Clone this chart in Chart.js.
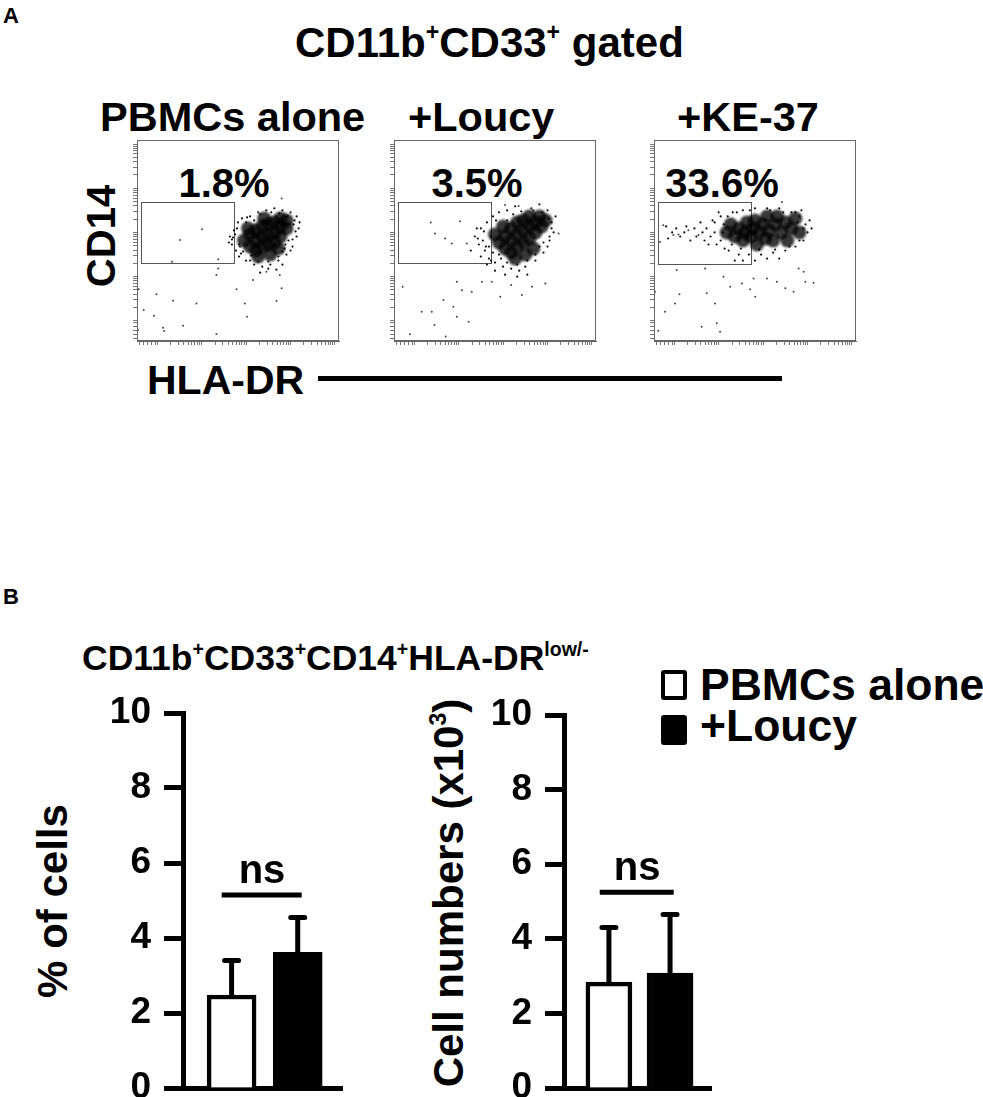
<!DOCTYPE html>
<html>
<head>
<meta charset="utf-8">
<script src="https://cdn.jsdelivr.net/npm/chart.js@4.4.1/dist/chart.umd.min.js"></script>
<style>
  body { margin: 0; background: #fff; }
  #fig { position: relative; width: 983px; height: 1097px; overflow: hidden; background: #fff;
         font-family: 'Liberation Sans', Arial, sans-serif; font-weight: bold; color: #000; }
  .t { position: absolute; white-space: nowrap; line-height: 1; }
  .t sup { font-size: 55%; vertical-align: 0; position: relative; top: -0.72em; }
  .rot { transform: translate(-50%, -50%) rotate(-90deg); }
  .ctr { transform: translateX(-50%); }
  canvas { position: absolute; }
  .sq { position: absolute; width: 26px; height: 30px; box-sizing: border-box; border: 4px solid #000; border-radius: 3px; }
</style>
</head>
<body>
<div id="fig">
  <div class="t" style="left:3px;top:5px;font-size:22px">A</div>
  <div class="t" style="left:295px;top:22px;font-size:42px">CD11b<sup>+</sup>CD33<sup>+</sup> gated</div>
  <div class="t" style="left:100px;top:96px;font-size:41.5px">PBMCs alone</div>
  <div class="t" style="left:408px;top:96px;font-size:41.5px">+Loucy</div>
  <div class="t" style="left:677px;top:96px;font-size:41.5px">+KE-37</div>
  <div class="t ctr" style="left:224px;top:163px;font-size:40px" id="p0"></div>
  <div class="t ctr" style="left:477px;top:163px;font-size:40px" id="p1"></div>
  <div class="t ctr" style="left:722px;top:163px;font-size:40px" id="p2"></div>
  <div class="t rot" style="left:101px;top:236px;font-size:40px">CD14</div>
  <div class="t" style="left:147px;top:360px;font-size:41px">HLA-DR</div>
  <div style="position:absolute;left:318px;top:376px;width:464px;height:5px;background:#000"></div>

  <div class="t" style="left:3px;top:586px;font-size:22px">B</div>
  <div class="t" style="left:82px;top:641px;font-size:35.5px">CD11b<sup>+</sup>CD33<sup>+</sup>CD14<sup>+</sup>HLA-DR<sup>low/-</sup></div>
  <div class="t rot" style="left:53px;top:901px;font-size:42px">% of cells</div>
  <div class="t rot" style="left:449px;top:893px;font-size:42px">Cell numbers (x10<sup>3</sup>)</div>

  <div class="sq" style="left:661px;top:670px;background:#fff"></div>
  <div class="sq" style="left:661px;top:715px;background:#000"></div>
  <div class="t" style="left:700px;top:663px;font-size:44.5px" id="lg0"></div>
  <div class="t" style="left:700px;top:704px;font-size:44.5px" id="lg1"></div>
</div>
<script>
// ---- panel A: flow plots, axis units 0..1000 on both axes ----
const flowSamples = ['PBMCs alone', '+Loucy', '+KE-37'];
const gatePct = ['1.8%', '3.5%', '33.6%'];
// gate box: [xMin, xMax, yMin, yMax]
const gateBox = [[21, 481, 386, 692], [22, 482, 386, 692], [18, 478, 381, 692]];

// dense part of each population
const core1 = [[530,500],[560,470],[560,530],[590,450],[590,500],[590,550],[620,470],[620,520],[650,480],[650,530],[650,580],
  [680,490],[680,540],[680,590],[710,520],[710,570],[710,610],[740,560],[740,600],[620,570],[600,420],[660,430],[700,460],[550,560],[630,610]];
const core2 = [[520,490],[550,460],[550,520],[580,440],[580,500],[580,560],[610,470],[610,530],[640,490],[640,550],[640,600],
  [670,510],[670,570],[670,620],[700,540],[700,590],[720,620],[730,570],[600,410],[650,430],[690,460],[540,570],[610,590],[500,530],[750,600]];
const core3 = [[400,520],[420,560],[440,500],[450,540],[460,590],[480,520],[490,560],[500,600],[510,480],[520,540],[540,580],
  [550,510],[560,620],[570,550],[590,500],[600,580],[610,620],[630,540],[650,590],[660,500],[680,560],[700,610],[720,540],[380,580],[360,540]];

// fringe of each population
const halo1 = [[460,520],[470,480],[480,550],[490,450],[500,590],[505,420],[520,610],[540,400],[560,620],[580,380],[600,640],
  [620,370],[640,650],[660,380],[680,660],[700,400],[720,650],[740,430],[760,640],[770,470],[780,600],[790,520],[800,560],
  [750,500],[470,505],[455,490],[515,435],[540,590],[580,600],[700,420],[760,450],[730,460],[790,620],[805,590],[650,360],
  [690,355],[610,340],[720,380],[510,470],[485,530],
  [475,515],[495,560],[505,480],[525,445],[545,615],[565,425],[610,630],[665,640],[705,635],[745,620],[775,580],[785,545],
  [770,505],[735,480],[650,395],[600,395],[560,400],[720,445]];
const halo2 = [[400,520],[420,480],[430,560],[450,450],[460,590],[470,410],[480,520],[490,620],[500,390],[520,640],[540,370],
  [560,650],[580,360],[600,670],[620,350],[650,370],[680,660],[700,400],[720,680],[740,440],[760,650],[770,500],[780,590],
  [790,540],[740,490],[440,500],[470,470],[520,430],[560,600],[700,430],[760,470],[800,620],[660,330],[610,320],[550,330],
  [500,350],[460,380],[430,420],[380,450],[410,560],
  [415,510],[445,545],[455,470],[490,440],[505,600],[530,410],[590,630],[630,645],[690,650],[735,640],[765,610],[780,560],
  [770,520],[720,470],[660,400],[610,380],[560,390],[480,400]];
const halo3 = [[260,560],[280,520],[300,590],[310,480],[330,620],[340,540],[350,460],[320,640],[370,450],[390,640],[420,430],
  [440,650],[470,430],[500,660],[530,430],[560,660],[590,440],[620,660],[650,450],[680,640],[700,470],[720,620],[740,500],
  [750,580],[760,540],[730,650],[290,600],[270,480],[240,540],[230,590],[210,520],[200,560],[180,500],[160,570],[150,540],
  [130,520],[110,560],[90,540],[70,510],[60,570],[440,400],[500,400],[560,410],[620,410],[400,400],[780,560],[770,600],
  [330,500],[345,580],[365,620],[385,480],[410,640],[430,460],[475,650],[520,455],[575,650],[600,455],[640,640],[670,470],
  [700,640],[720,500],[740,560],[710,590],[300,540],[250,500]];

// scattered single events
const sparse1 = [[322,556],[212,502],[174,394],[402,407],[402,361],[393,328],[493,258],[575,303],[641,344],[707,328],[716,262],
  [691,199],[294,187],[179,200],[96,232],[8,258],[33,154],[84,126],[5,55],[129,66],[134,50],[228,76],[393,35],[534,187],
  [545,121],[716,709]];
const sparse2 = [[311,295],[336,253],[385,245],[435,295],[484,295],[245,204],[294,171],[311,121],[369,96],[187,146],[137,146],
  [200,79],[256,22],[79,33],[43,270],[182,590],[203,535],[253,510],[286,485],[360,485],[327,596],[580,278],[633,229],[683,270],
  [749,286],[815,535],[526,220],[617,672],[550,676]];
const sparse3 = [[121,530],[96,527],[30,493],[46,576],[170,551],[220,527],[112,353],[253,361],[344,320],[377,270],[435,286],
  [476,258],[501,220],[493,311],[559,311],[608,295],[650,262],[691,245],[716,361],[749,295],[790,290],[741,344],[633,692],
  [261,237],[126,233],[104,187],[5,245],[55,146],[21,51],[236,71],[311,88],[327,46],[302,187]];

const flowCore = [core1, core2, core3];
const flowHalo = [halo1, halo2, halo3];
const flowSparse = [sparse1, sparse2, sparse3];

// ---- panel B: bar charts ----
const groups = ['PBMCs alone', '+Loucy'];
const pctMean = [2.48, 3.62];
const pctErr = [0.92, 0.93];
const numMean = [2.84, 3.08];
const numErr = [1.46, 1.57];
const nsLevel = [5.15, 5.25];
const yTicks = [0, 2, 4, 6, 8, 10];

const FONT = "'Liberation Sans', Arial, sans-serif";

function addCanvas(left, top, w, h) {
  const c = document.createElement('canvas');
  c.width = w; c.height = h;
  c.style.left = left + 'px'; c.style.top = top + 'px';
  c.style.width = w + 'px'; c.style.height = h + 'px';
  document.getElementById('fig').appendChild(c);
  return c.getContext('2d');
}
const pts = arr => arr.map(p => ({ x: p[0], y: p[1] }));

// fixed axis box size, no extra padding from labels
const fixBox = (w, h) => s => {
  if (w != null) s.width = w;
  if (h != null) s.height = h;
  s.paddingTop = 0; s.paddingBottom = 0; s.paddingLeft = 0; s.paddingRight = 0;
};

// log-looking tick marks for the flow axes
function axisMarks(scale) {
  const out = [];
  for (let v = 10; v < 100; v += 20) out.push({ value: v });
  [100, 320, 540, 760].forEach(s => {
    for (let k = 1; k <= 9; k++) out.push({ value: s + 220 * Math.log10(k) });
  });
  out.push({ value: 980 });
  scale.ticks = out;
}

const flowFrame = {
  id: 'frame',
  beforeDatasetsDraw(chart, args, opts) {
    const { ctx, scales: { x, y } } = chart;
    const g = opts.gate;
    const x0 = Math.round(x.getPixelForValue(g[0])), x1 = Math.round(x.getPixelForValue(g[1]));
    const y0 = Math.round(y.getPixelForValue(g[2])), y1 = Math.round(y.getPixelForValue(g[3]));
    ctx.save();
    ctx.strokeStyle = '#555';
    ctx.lineWidth = 1;
    ctx.strokeRect(x0 + 0.5, y1 + 0.5, x1 - x0, y0 - y1);
    ctx.restore();
  },
  // the dense core is drawn soft, like a crowded dot cloud
  beforeDatasetDraw(chart, args) {
    if (args.index === 0) { chart.ctx.save(); chart.ctx.filter = 'blur(1.2px)'; }
  },
  afterDatasetDraw(chart, args) {
    if (args.index === 0) chart.ctx.restore();
  },
  afterDatasetsDraw(chart) {
    const { ctx, chartArea: a } = chart;
    ctx.save();
    ctx.strokeStyle = '#666';
    ctx.lineWidth = 1;
    ctx.strokeRect(a.left + 0.5, a.top + 0.5, a.width - 1, a.height - 1);
    ctx.restore();
  }
};

const frameLeft = [137, 394, 654];
flowSamples.forEach((name, i) => {
  document.getElementById('p' + i).textContent = gatePct[i];
  const ctx = addCanvas(frameLeft[i] - 10, 139, 213, 212);
  const axis = (fit) => ({
    type: 'linear', min: 0, max: 1000,
    afterBuildTicks: axisMarks,
    ticks: { display: false },
    grid: { drawOnChartArea: false, tickLength: 4, color: '#777' },
    border: { color: '#666' },
    afterFit: fit
  });
  new Chart(ctx, {
    type: 'scatter',
    data: {
      datasets: [
        { label: name + ' core', data: pts(flowCore[i]), pointRadius: 7, borderWidth: 0, backgroundColor: 'rgba(0,0,0,0.78)' },
        { label: name + ' fringe', data: pts(flowHalo[i]), pointRadius: 1.1, borderWidth: 0, backgroundColor: '#111' },
        { label: name + ' events', data: pts(flowSparse[i]), pointRadius: 1, borderWidth: 0, backgroundColor: '#444' }
      ]
    },
    options: {
      responsive: false,
      animation: false,
      layout: { autoPadding: false, padding: { top: 1, right: 1 } },
      plugins: { legend: { display: false }, tooltip: { enabled: false }, frame: { gate: gateBox[i] } },
      scales: {
        x: axis(fixBox(null, 10)),
        y: axis(fixBox(10, null))
      }
    },
    plugins: [flowFrame]
  });
});

// error bars (upper only) and the ns bracket
const errBars = {
  id: 'errs',
  afterDatasetsDraw(chart, args, opts) {
    const { ctx, scales: { x, y } } = chart;
    ctx.save();
    ctx.strokeStyle = '#000';
    ctx.fillStyle = '#000';
    ctx.lineWidth = 5;
    ctx.lineCap = 'round';
    opts.mean.forEach((m, i) => {
      const cx = x.getPixelForValue(i + 1);
      const base = y.getPixelForValue(m);
      const tip = y.getPixelForValue(m + opts.err[i]);
      ctx.beginPath();
      ctx.moveTo(cx, base); ctx.lineTo(cx, tip);
      ctx.moveTo(cx - 7, tip); ctx.lineTo(cx + 7, tip);
      ctx.stroke();
    });
    const ly = y.getPixelForValue(opts.ns);
    ctx.lineCap = 'butt';
    ctx.beginPath();
    ctx.moveTo(x.getPixelForValue(0.85), ly);
    ctx.lineTo(x.getPixelForValue(2.06), ly);
    ctx.stroke();
    ctx.font = 'bold 40px ' + FONT;
    ctx.textAlign = 'center';
    ctx.fillText('ns', x.getPixelForValue(1.46), ly - 12);
    ctx.restore();
  }
};

function barChart(left, top, w, h, axisW, padTop, barW, mean, err, ns) {
  const ctx = addCanvas(left, top, w, h);
  return new Chart(ctx, {
    type: 'bar',
    data: {
      datasets: [{
        label: 'groups',
        data: groups.map((g, i) => ({ x: i + 1, y: mean[i] })),
        backgroundColor: ['#fff', '#000'],
        borderColor: '#000',
        borderWidth: 4.5,
        barThickness: barW
      }]
    },
    options: {
      responsive: false,
      animation: false,
      layout: { padding: { top: padTop, right: 8 } },
      plugins: { legend: { display: false }, tooltip: { enabled: false }, errs: { mean, err, ns } },
      scales: {
        x: {
          type: 'linear', min: 0.265, max: 2.67, offset: false,
          ticks: { display: false },
          grid: { display: false, offset: false },
          border: { width: 5, color: '#000' },
          afterFit: fixBox(null, 9)
        },
        y: {
          min: 0, max: 10,
          afterBuildTicks: s => { s.ticks = yTicks.map(v => ({ value: v })); },
          ticks: { color: '#000', padding: 13, font: { family: FONT, size: 37, weight: 'bold' } },
          grid: { drawOnChartArea: false, tickLength: 19, tickWidth: 5, tickColor: '#000' },
          border: { width: 5, color: '#000' },
          afterFit: fixBox(axisW, null)
        }
      }
    },
    plugins: [errBars]
  });
}

barChart(60, 690, 290, 407, 123, 23, 49, pctMean, pctErr, nsLevel[0]);
barChart(440, 690, 279, 407, 124, 25, 46, numMean, numErr, nsLevel[1]);

document.getElementById('lg0').textContent = groups[0];
document.getElementById('lg1').textContent = groups[1];
</script>
</body>
</html>
